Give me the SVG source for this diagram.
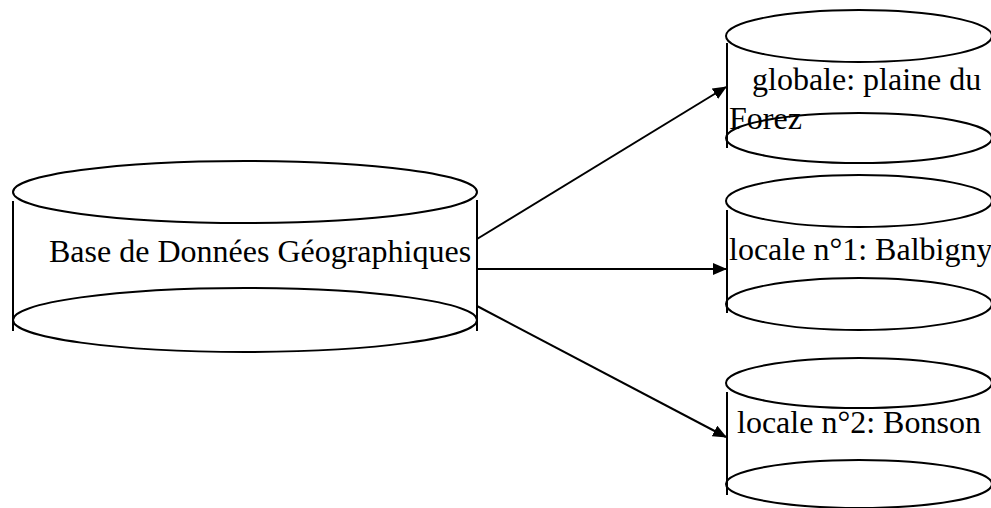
<svg xmlns="http://www.w3.org/2000/svg" width="991" height="508" viewBox="0 0 991 508">
<style>
.s{fill:none;stroke:#000;stroke-width:2}
.t{font-family:"Liberation Serif","Times New Roman",serif;font-size:32px;fill:#000}
</style>
<defs>
<marker id="ah" markerWidth="14" markerHeight="12" refX="13" refY="6" orient="auto" markerUnits="userSpaceOnUse">
<path d="M0,0 L14,6 L0,12 z" fill="#000"/>
</marker>
</defs>
<rect width="991" height="508" fill="#fff"/>
<g id="main">
<ellipse class="s" cx="245" cy="192" rx="232" ry="31"/>
<ellipse class="s" cx="245" cy="320" rx="232" ry="32"/>
<line class="s" x1="13" y1="201" x2="13" y2="331"/>
<line class="s" x1="477" y1="200" x2="477" y2="331"/>
<text class="t" x="49" y="262">Base de Données Géographiques</text>
</g>
<g id="globale">
<ellipse class="s" cx="859" cy="36" rx="133" ry="26"/>
<ellipse class="s" cx="859" cy="138" rx="133" ry="25"/>
<line class="s" x1="727" y1="43" x2="727" y2="148"/>
<text class="t" x="752" y="90">globale: plaine du</text>
<text class="t" x="729" y="129">Forez</text>
</g>
<g id="locale1">
<ellipse class="s" cx="859" cy="201" rx="133" ry="26"/>
<ellipse class="s" cx="859" cy="304" rx="133" ry="26"/>
<line class="s" x1="727" y1="210" x2="727" y2="313"/>
<text class="t" x="729" y="260">locale n°1: Balbigny</text>
</g>
<g id="locale2">
<ellipse class="s" cx="859" cy="383" rx="133" ry="25"/>
<ellipse class="s" cx="859" cy="484" rx="133" ry="24"/>
<line class="s" x1="727" y1="392" x2="727" y2="495"/>
<text class="t" x="737" y="433">locale n°2: Bonson</text>
</g>
<g id="connectors">
<line class="s" x1="477" y1="239" x2="726" y2="87" marker-end="url(#ah)"/>
<line class="s" x1="477" y1="269" x2="726" y2="269" marker-end="url(#ah)"/>
<line class="s" x1="477" y1="306" x2="726" y2="437" marker-end="url(#ah)"/>
</g>
</svg>
